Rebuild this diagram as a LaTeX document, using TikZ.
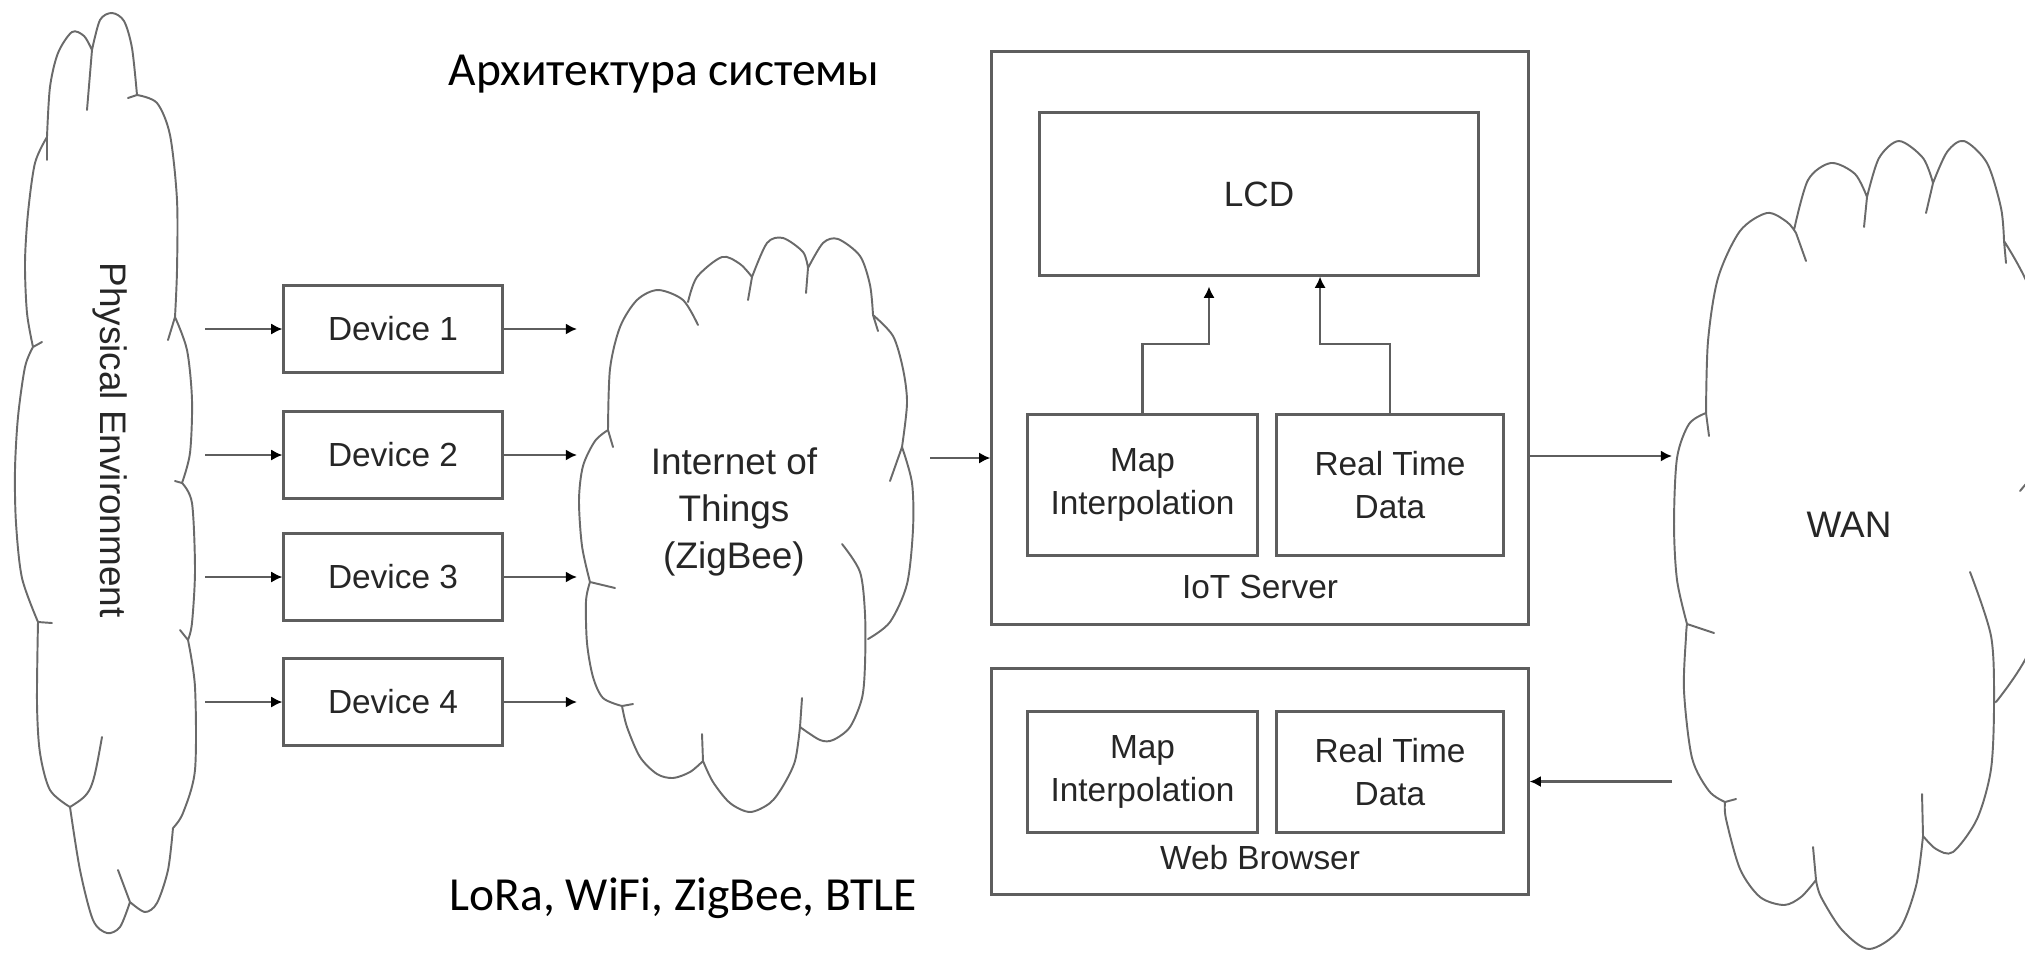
\documentclass[tikz,border=0pt]{standalone}
\usepackage{fontspec}
\setmainfont{Liberation Sans}
\newfontfamily\calfont{Carlito}
\usetikzlibrary{arrows.meta}

\definecolor{linegray}{HTML}{5E5E5E}
\definecolor{cloudgray}{HTML}{6A6A6A}
\definecolor{textgray}{HTML}{262626}

\tikzset{
  box/.style={draw=linegray, line width=0.85pt, text=textgray, align=center,
    inner sep=0pt, font=\fontsize{9.5}{12}\selectfont},
  conn/.style={draw=linegray, line width=0.7pt,
    -{Latex[length=3.2pt,width=3.2pt,black]}},
  cloudline/.style={draw=cloudgray, line width=0.55pt, line cap=round, line join=round},
  lbl/.style={text=textgray, align=center, inner sep=0pt, font=\fontsize{9.5}{12}\selectfont},
  bigl/.style={text=textgray, align=center, inner sep=0pt, font=\fontsize{10.5}{13.3}\selectfont},
  caption/.style={text=black, inner sep=0pt, font=\calfont\fontsize{13.5}{16}\selectfont},
}

\begin{document}
\begin{tikzpicture}[x=0.01cm, y=0.01cm]
\useasboundingbox (0,0) rectangle (2025,953);
\clip (0,0) rectangle (2025,953);

% physical environment cloud
\draw[cloudline]
  plot[smooth] coordinates {(47,816) (50,866) (58,900) (72,921) (84,917) (92,903)}
  plot[smooth] coordinates {(92,903) (100,933) (112,940) (124,932) (132,905) (137,858)}
  plot[smooth] coordinates {(137,858) (157,850) (170,818) (177,753) (177,683) (175,636)}
  plot[smooth] coordinates {(175,636) (187,603) (192,553) (190,500) (182,470)}
  plot[smooth] coordinates {(182,470) (192,450) (195,383) (192,330) (188,313)}
  plot[smooth] coordinates {(188,313) (195,266) (195,183) (183,140) (173,125)}
  plot[smooth] coordinates {(173,125) (168,83) (157,50) (145,41) (130,51)}
  plot[smooth] coordinates {(130,51) (120,26) (107,20) (93,33) (80,83) (70,146)}
  plot[smooth] coordinates {(70,146) (50,163) (40,200) (37,250) (38,331)}
  plot[smooth] coordinates {(38,331) (22,375) (16,430) (15,483) (18,536) (25,586) (33,606)}
  plot[smooth] coordinates {(33,606) (27,640) (25,690) (28,740) (35,790) (47,816)}
  (47,816) -- (47,793)  (92,903) -- (87,843)  (137,858) -- (128,855)
  (175,636) -- (168,613)  (182,470) -- (175,472)  (188,313) -- (180,323)
  (130,51) -- (118,83)  (70,146) .. controls (92,160) .. (102,216)
  (38,331) -- (52,330)  (33,606) -- (42,611);
\node[bigl, rotate=-90] (pe) at (110,513) {Physical Environment};

% internet of things cloud
\draw[cloudline]
  plot[smooth] coordinates {(608,523) (610,584) (620,626) (637,653) (658,663) (683,653) (698,628)}
  plot[smooth] coordinates {(688,651) (697,676) (722,696) (740,689) (752,676)}
  plot[smooth] coordinates {(752,676) (767,710) (783,715) (803,701) (808,685)}
  plot[smooth] coordinates {(808,685) (823,710) (838,714) (860,697) (870,668) (873,638)}
  plot[smooth] coordinates {(873,638) (893,617) (903,584) (907,550) (902,506)}
  plot[smooth] coordinates {(902,506) (912,470) (913,424) (907,369) (890,331) (868,314)}
  plot[smooth] coordinates {(842,409) (860,381) (865,339) (865,289) (862,255) (850,226) (833,213) (820,213) (800,226)}
  plot[smooth] coordinates {(800,226) (795,192) (783,167) (770,150) (750,141) (730,150) (713,171) (703,192)}
  plot[smooth] coordinates {(703,192) (690,181) (673,175) (657,179) (640,196) (627,226) (622,247)}
  plot[smooth] coordinates {(622,247) (603,255) (593,276) (587,310) (586,352) (590,371)}
  plot[smooth] coordinates {(590,371) (582,407) (579,453) (583,487) (595,512) (608,523)}
  (752,676) -- (748,653)  (808,685) -- (806,660)  (873,638) -- (878,622)
  (902,506) -- (890,472)  (800,226) -- (802,255)  (703,192) -- (702,219)
  (622,247) -- (633,249)  (590,371) -- (615,365)  (608,523) -- (613,506);
\node[bigl] (iot) at (734,441) {Internet of\\Things\\(ZigBee)};

% wan cloud
\draw[cloudline]
  plot[smooth] coordinates {(1706,540) (1708,612) (1718,675) (1740,722) (1767,740) (1787,731) (1796,720)}
  plot[smooth] coordinates {(1794,723) (1808,773) (1831,790) (1855,779) (1867,756)}
  plot[smooth] coordinates {(1867,756) (1879,795) (1899,812) (1923,795) (1933,770)}
  plot[smooth] coordinates {(1933,770) (1947,801) (1964,812) (1987,790) (2001,745) (2004,712)}
  plot[smooth] coordinates {(2004,712) (2031,660) (2048,570) (2035,480)}
  plot[smooth] coordinates {(2035,480) (2048,400) (2031,306) (1996,251)}
  plot[smooth] coordinates {(1970,381) (1991,317) (1994,251) (1991,184) (1977,134) (1953,101) (1936,104) (1923,117)}
  plot[smooth] coordinates {(1923,117) (1916,67) (1899,23) (1869,4) (1842,23) (1821,56) (1816,73)}
  plot[smooth] coordinates {(1816,73) (1801,56) (1784,48) (1760,56) (1740,84) (1726,134) (1725,151)}
  plot[smooth] coordinates {(1725,151) (1709,162) (1692,195) (1684,262) (1686,317) (1687,329)}
  plot[smooth] coordinates {(1687,329) (1677,373) (1674,429) (1677,495) (1689,529) (1706,540)}
  (1796,720) -- (1806,692)  (1867,756) -- (1864,726)  (1933,770) -- (1926,740)
  (2004,712) -- (2006,690)  (2035,480) -- (2020,462)  (1923,117) -- (1922,159)
  (1816,73) -- (1813,106)  (1725,151) -- (1736,154)  (1687,329) -- (1714,320)
  (1706,540) -- (1709,517);
\node[bigl] (wan) at (1849,428) {WAN};

% devices
\foreach \i/\y in {1/624,2/498,3/376,4/251}{
  \node[box, minimum width=2.18cm, minimum height=0.87cm] (dev\i) at (393,\y) {Device \i};
  \coordinate (pe\i) at (205,\y);
  \coordinate (iot\i) at (577,\y);
  \draw[conn] (pe\i) -- (dev\i);
  \draw[conn] (dev\i) -- (iot\i);
}

% iot server
\node[box, minimum width=5.36cm, minimum height=5.72cm] (srv) at (1260,615) {};
\node[box, minimum width=4.38cm, minimum height=1.62cm, font=\fontsize{10}{12}\selectfont]
  (lcd) at (1259,759) {LCD};
\node[box, minimum width=2.29cm, minimum height=1.41cm] (mapsrv) at (1142.5,468) {Map\\Interpolation};
\node[box, minimum width=2.26cm, minimum height=1.41cm] (realsrv) at (1390,468) {Real Time\\Data};
\node[lbl] (srvlbl) at (1260,366) {IoT Server};
\draw[conn] (mapsrv.north) -- ++(0,69) -| ([xshift=-0.5cm, yshift=-0.1cm]lcd.south);
\draw[conn] (realsrv.north) -- ++(0,69) -| ([xshift=0.61cm]lcd.south);

% web browser
\node[box, minimum width=5.36cm, minimum height=2.25cm] (wb) at (1260,171.5) {};
\node[box, minimum width=2.29cm, minimum height=1.2cm] (mapwb) at (1142.5,181) {Map\\Interpolation};
\node[box, minimum width=2.26cm, minimum height=1.2cm] (realwb) at (1390,181) {Real Time\\Data};
\node[lbl] (wblbl) at (1260,95) {Web Browser};

% links between blocks
\coordinate (iotout) at (930,495);
\coordinate (wanin) at (1672,497);
\coordinate (wanout) at (1672,171.5);
\draw[conn] (iotout) -- (srv.west |- iotout);
\draw[conn] (srv.east |- wanin) -- (wanin);
\draw[conn] (wanout) -- (wb.east);

\node[caption] (title) at (664,879) {Архитектура системы};
\node[caption] (radio) at (683,55) {LoRa, WiFi, ZigBee, BTLE};
\end{tikzpicture}
\end{document}
